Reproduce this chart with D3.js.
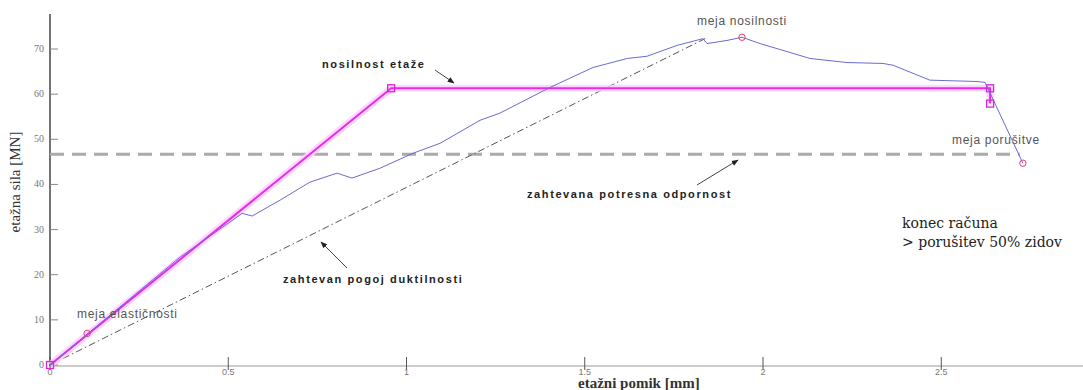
<!DOCTYPE html>
<html>
<head>
<meta charset="utf-8">
<script src="https://cdn.jsdelivr.net/npm/d3@7"></script>
<style>
  html, body { margin: 0; padding: 0; background: #fff; }
  svg { display: block; }
</style>
</head>
<body>
<svg id="chart" width="1083" height="390"></svg>
<script>
// Pushover curve of a storey: displacement [mm] vs storey force [MN]
const pushoverX = [0, 0.365, 0.539, 0.567, 0.645, 0.729, 0.805, 0.847, 0.926, 1.018, 1.094, 1.206, 1.262, 1.403, 1.523, 1.619, 1.675, 1.759, 1.832, 1.843, 1.899, 1.941, 1.992, 2.132, 2.236, 2.337, 2.365, 2.468, 2.600, 2.623, 2.729];
const pushoverY = [0, 23.9, 33.6, 33.0, 36.5, 40.5, 42.5, 41.4, 43.6, 46.9, 49.1, 54.2, 55.8, 61.5, 65.9, 67.9, 68.4, 70.8, 72.3, 71.2, 71.9, 72.6, 71.2, 67.9, 67.0, 66.8, 66.4, 63.1, 62.8, 62.6, 44.7];

// Idealised bilinear capacity
const bilinearX = [0, 0.957, 2.637, 2.637];
const bilinearY = [0, 61.3, 61.3, 57.9];

// Required ductility condition (dash-dot)
const ductilityX = [0, 1.84];
const ductilityY = [0, 72.4];

// Required seismic resistance
const requiredResistance = 46.7;

// Limit states: elastic, capacity, failure
const limitX = [0.104, 1.941, 2.729];
const limitY = [7.0, 72.6, 44.7];

const xTicks = [0, 0.5, 1, 1.5, 2, 2.5];
const xTickLabels = ["0", "0.5", "1", "1.5", "2", "2.5"];
const yTicks = [0, 10, 20, 30, 40, 50, 60, 70];

const svg = d3.select("#chart");
const x = d3.scaleLinear().domain([0, 2.9]).range([50, 50 + 2.9 * 356.5]);
const y = d3.scaleLinear().domain([0, 70]).range([365, 49]);

// axes
svg.append("line").attr("x1", 50).attr("x2", 1083).attr("y1", 366).attr("y2", 366)
  .attr("stroke", "#9a9a9a").attr("stroke-width", 1.2);
svg.append("line").attr("x1", 50).attr("x2", 50).attr("y1", 14).attr("y2", 366)
  .attr("stroke", "#444").attr("stroke-width", 1.5);

const xg = svg.append("g");
xTicks.forEach((t, i) => {
  xg.append("line").attr("x1", x(t)).attr("x2", x(t)).attr("y1", 357).attr("y2", 370)
    .attr("stroke", "#555").attr("stroke-width", 1);
  xg.append("text").attr("x", x(t)).attr("y", 375).attr("text-anchor", "middle")
    .attr("font-family", "Liberation Sans, Arial, sans-serif").attr("font-size", 9)
    .attr("fill", "#777").text(xTickLabels[i]);
});
const yg = svg.append("g");
yTicks.forEach(t => {
  yg.append("line").attr("x1", 50).attr("x2", 58).attr("y1", y(t)).attr("y2", y(t))
    .attr("stroke", "#888").attr("stroke-width", 1);
  yg.append("text").attr("x", 44).attr("y", y(t) + 3).attr("text-anchor", "end")
    .attr("font-family", "Liberation Serif, Times New Roman, serif").attr("font-size", 10)
    .attr("fill", "#777").text(t);
});

// axis titles
svg.append("text").attr("transform", "translate(20,182) rotate(-90)")
  .attr("text-anchor", "middle").attr("font-family", "Liberation Serif, Times New Roman, serif")
  .attr("font-size", 15).attr("fill", "#333").text("etažna sila [MN]");
svg.append("text").attr("x", 578).attr("y", 388)
  .attr("font-family", "Liberation Serif, Times New Roman, serif").attr("font-weight", "bold")
  .attr("font-size", 15).attr("fill", "#333").text("etažni pomik [mm]");

const line = d3.line().x(d => x(d[0])).y(d => y(d[1]));

// required resistance (grey dashed)
svg.append("line").attr("x1", x(0)).attr("x2", x(2.72))
  .attr("y1", y(requiredResistance)).attr("y2", y(requiredResistance))
  .attr("stroke", "#aaa").attr("stroke-width", 3).attr("stroke-dasharray", "14,8");

// ductility condition (dash-dot)
svg.append("path").datum(d3.zip(ductilityX, ductilityY)).attr("d", line)
  .attr("fill", "none").attr("stroke", "#555").attr("stroke-width", 1)
  .attr("stroke-dasharray", "7,3,1.5,3");

// bilinear capacity with soft halo
const bil = d3.zip(bilinearX, bilinearY);
svg.append("path").datum(bil).attr("d", line).attr("fill", "none")
  .attr("stroke", "#ffccff").attr("stroke-width", 7).attr("opacity", 0.8);
svg.append("path").datum(bil).attr("d", line).attr("fill", "none")
  .attr("stroke", "#e82ce8").attr("stroke-width", 2);
svg.selectAll("rect.bil").data(bil).enter().append("rect")
  .attr("x", d => x(d[0]) - 3.5).attr("y", d => y(d[1]) - 3.5)
  .attr("width", 7).attr("height", 7).attr("fill", "none")
  .attr("stroke", "#e020e0").attr("stroke-width", 1.3);

// pushover curve
svg.append("path").datum(d3.zip(pushoverX, pushoverY)).attr("d", line)
  .attr("fill", "none").attr("stroke", "#6a6ad2").attr("stroke-width", 1);

// limit state markers
svg.selectAll("circle.lim").data(d3.zip(limitX, limitY)).enter().append("circle")
  .attr("cx", d => x(d[0])).attr("cy", d => y(d[1])).attr("r", 3.2)
  .attr("fill", "none").attr("stroke", "#e0406a").attr("stroke-width", 1);

// grey labels of limit states
const greyLabel = (tx, ty, s) => svg.append("text").attr("x", tx).attr("y", ty)
  .attr("font-family", "Liberation Sans, Arial, sans-serif").attr("font-size", 12)
  .attr("letter-spacing", 0.7).attr("fill", "#555").text(s);
greyLabel(77, 318, "meja elastičnosti");
greyLabel(697, 25, "meja nosilnosti");
greyLabel(952, 144, "meja porušitve");

// bold annotations with arrows
const boldLabel = (tx, ty, s) => svg.append("text").attr("x", tx).attr("y", ty)
  .attr("font-family", "Liberation Sans, Arial, sans-serif").attr("font-size", 11)
  .attr("font-weight", "bold").attr("letter-spacing", 1.6).attr("fill", "#222").text(s);
boldLabel(322, 68, "nosilnost etaže");
boldLabel(527, 198, "zahtevana potresna odpornost");
boldLabel(283, 283, "zahtevan pogoj duktilnosti");

svg.append("defs").append("marker").attr("id", "head").attr("viewBox", "0 0 10 10")
  .attr("refX", 9).attr("refY", 5).attr("markerWidth", 7).attr("markerHeight", 7)
  .attr("orient", "auto").append("path").attr("d", "M0,1L10,5L0,9Z").attr("fill", "#222");
const arrow = (x1, y1, x2, y2) => svg.append("line").attr("x1", x1).attr("y1", y1)
  .attr("x2", x2).attr("y2", y2).attr("stroke", "#444").attr("stroke-width", 1)
  .attr("marker-end", "url(#head)");
arrow(435, 70, 454, 83);
arrow(697, 185, 738, 160);
arrow(347, 268, 321, 242);

// note about the end of the analysis
const note = svg.append("text").attr("font-family", "DejaVu Serif, serif")
  .attr("font-size", 14).attr("fill", "#222");
note.append("tspan").attr("x", 902).attr("y", 228).text("konec računa");
note.append("tspan").attr("x", 902).attr("y", 247).text("> porušitev 50% zidov");
</script>
</body>
</html>
